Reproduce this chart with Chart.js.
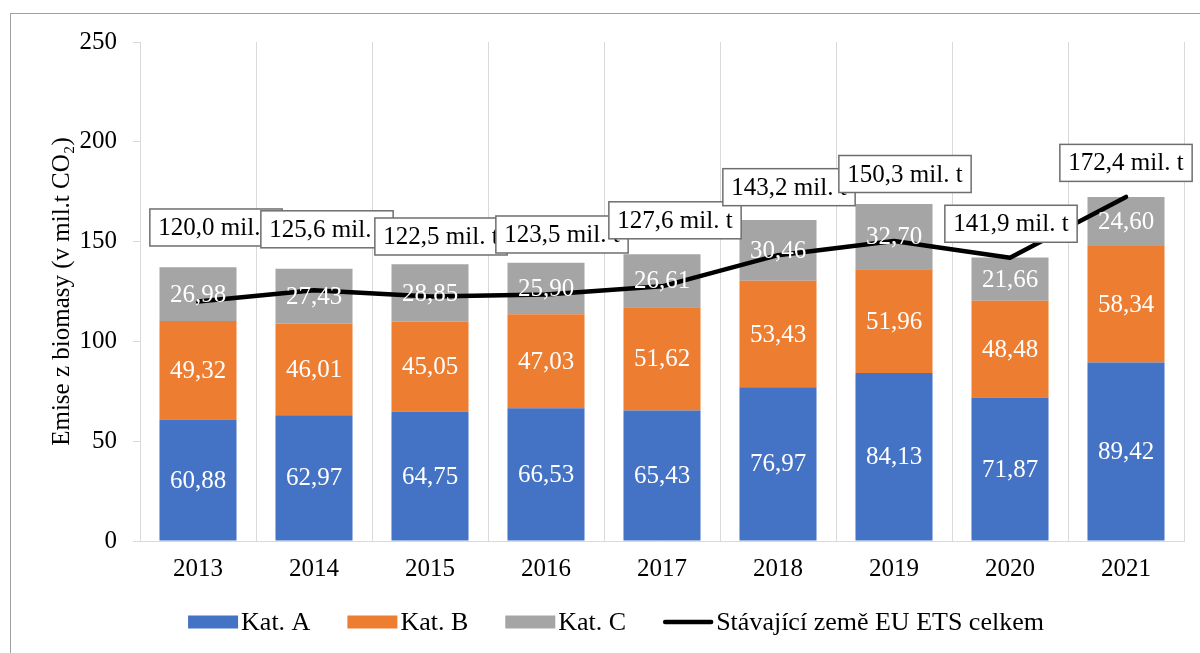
<!DOCTYPE html>
<html>
<head>
<meta charset="utf-8">
<script src="https://cdn.jsdelivr.net/npm/chart.js@4/dist/chart.umd.min.js"></script>
<style>
  body { margin: 0; background: #fff; }
  canvas { display: block; }
</style>
</head>
<body>
<canvas id="chart" width="1200" height="653"></canvas>
<script>
// data
var years = ['2013', '2014', '2015', '2016', '2017', '2018', '2019', '2020', '2021'];
var katA = [60.88, 62.97, 64.75, 66.53, 65.43, 76.97, 84.13, 71.87, 89.42];
var katB = [49.32, 46.01, 45.05, 47.03, 51.62, 53.43, 51.96, 48.48, 58.34];
var katC = [26.98, 27.43, 28.85, 25.90, 26.61, 30.46, 32.70, 21.66, 24.60];
var celkem = [120.0, 125.6, 122.5, 123.5, 127.6, 143.2, 150.3, 141.9, 172.4];
var yTicks = [0, 50, 100, 150, 200, 250];

// where each total label box sits, relative to its point (px)
var labelOffsets = [[18, -74], [13, -61], [11, -60], [16, -60], [13, -66], [11, -68], [11, -67], [1, -34], [0, -34]];

var serif = "'Liberation Serif', 'Times New Roman', serif";
var gridColor = '#d9d9d9';

function czNum(v, digits)
{
    return v.toFixed(digits).replace('.', ',');
}

// white background + outer frame of the chart
var framePlugin = {
    id: 'frame',
    beforeDraw: function(chart) {
        var ctx = chart.ctx;
        ctx.save();
        ctx.fillStyle = '#fff';
        ctx.fillRect(0, 0, chart.width, chart.height);
        ctx.strokeStyle = '#a0a0a0';
        ctx.lineWidth = 1;
        ctx.strokeRect(10.5, 13.5, 1400, 800);
        ctx.restore();
    }
};

// values inside the stacked bars
var barLabelsPlugin = {
    id: 'barLabels',
    afterDatasetsDraw: function(chart) {
        var ctx = chart.ctx;
        ctx.save();
        ctx.font = '25px ' + serif;
        ctx.fillStyle = '#fff';
        ctx.textAlign = 'center';
        ctx.textBaseline = 'middle';
        chart.data.datasets.forEach(function(ds, i) {
            if (ds.type === 'line') return;
            var meta = chart.getDatasetMeta(i);
            meta.data.forEach(function(el, j) {
                var cy = (el.y + el.base) / 2;
                ctx.fillText(czNum(ds.data[j], 2), el.x, cy + 1);
            });
        });

        // boxed totals for the line
        var lineIndex = chart.data.datasets.findIndex(function(d) { return d.type === 'line'; });
        var lineMeta = chart.getDatasetMeta(lineIndex);
        lineMeta.data.forEach(function(pt, j) {
            var text = czNum(celkem[j], 1) + ' mil. t';
            var w = ctx.measureText(text).width + 17;
            var h = 37;
            var cx = pt.x + labelOffsets[j][0];
            var cy = pt.y + labelOffsets[j][1];
            ctx.fillStyle = '#fff';
            ctx.fillRect(cx - w / 2, cy - h / 2, w, h);
            ctx.strokeStyle = '#6e6e6e';
            ctx.lineWidth = 1.5;
            ctx.strokeRect(cx - w / 2, cy - h / 2, w, h);
            ctx.fillStyle = '#000';
            ctx.fillText(text, cx, cy + 1);
        });
        ctx.restore();
    }
};

// legend drawn by hand so the text sits right next to the swatch
var legendPlugin = {
    id: 'customLegend',
    afterDraw: function(chart) {
        var ctx = chart.ctx;
        var items = chart.data.datasets.map(function(ds) {
            return { text: ds.label, color: ds.type === 'line' ? ds.borderColor : ds.backgroundColor, line: ds.type === 'line' };
        });
        // line series comes first in the data (drawn on top), but is last in the legend
        items.push(items.shift());
        ctx.save();
        ctx.font = '26px ' + serif;
        var boxW = 50, gap = 3, spacing = 37;
        var total = 0;
        items.forEach(function(it, k) {
            it.w = ctx.measureText(it.text).width;
            total += boxW + gap + it.w + (k < items.length - 1 ? spacing : 0);
        });
        var x = 616 - total / 2;
        var y = 622;
        ctx.textBaseline = 'middle';
        ctx.textAlign = 'left';
        items.forEach(function(it) {
            if (it.line) {
                ctx.strokeStyle = it.color;
                ctx.lineWidth = 4.5;
                ctx.lineCap = 'round';
                ctx.beginPath();
                ctx.moveTo(x + 2, y);
                ctx.lineTo(x + boxW - 2, y);
                ctx.stroke();
            } else {
                ctx.fillStyle = it.color;
                ctx.fillRect(x, y - 6.5, boxW, 13);
            }
            ctx.fillStyle = '#000';
            ctx.fillText(it.text, x + boxW + gap, y + 1);
            x += boxW + gap + it.w + spacing;
        });
        ctx.restore();
    }
};

var ctx = document.getElementById('chart').getContext('2d');
var myChart = new Chart(ctx, {
    type: 'bar',
    data: {
        labels: years,
        datasets: [
            {
                type: 'line',
                label: 'Stávající země EU ETS celkem',
                data: celkem,
                borderColor: '#000',
                borderWidth: 4.5,
                pointRadius: 0,
                tension: 0,
                borderCapStyle: 'round',
                borderJoinStyle: 'round',
                order: 0
            },
            { label: 'Kat. A', data: katA, backgroundColor: '#4472C4', order: 1 },
            { label: 'Kat. B', data: katB, backgroundColor: '#ED7D31', order: 1 },
            { label: 'Kat. C', data: katC, backgroundColor: '#A5A5A5', order: 1 }
        ]
    },
    options: {
        responsive: false,
        animation: false,
        layout: { padding: { top: 42, right: 16, bottom: 0, left: 0 } },
        datasets: {
            bar: { categoryPercentage: 1.0, barPercentage: 0.664 }
        },
        plugins: {
            legend: { display: false },
            tooltip: { enabled: false }
        },
        scales: {
            x: {
                stacked: true,
                grid: { color: gridColor, lineWidth: 1, drawTicks: false, offset: true },
                border: { color: gridColor },
                ticks: { color: '#000', padding: 13, font: { family: serif, size: 25 } },
                afterFit: function(scale) { scale.height = 112; }
            },
            y: {
                stacked: true,
                min: 0,
                max: 250,
                afterBuildTicks: function(scale) {
                    scale.ticks = yTicks.map(function(v) { return { value: v }; });
                },
                grid: { drawOnChartArea: false, color: gridColor, tickLength: 7 },
                border: { color: gridColor },
                ticks: { color: '#000', padding: 16, font: { family: serif, size: 25 } },
                title: {
                    display: true,
                    text: 'Emise z biomasy (v mil.t CO₂)',
                    color: '#000',
                    font: { family: serif, size: 25 },
                    padding: { top: 47, bottom: 0 }
                },
                afterFit: function(scale) { scale.width = 140; }
            }
        }
    },
    plugins: [framePlugin, barLabelsPlugin, legendPlugin]
});
</script>
</body>
</html>
